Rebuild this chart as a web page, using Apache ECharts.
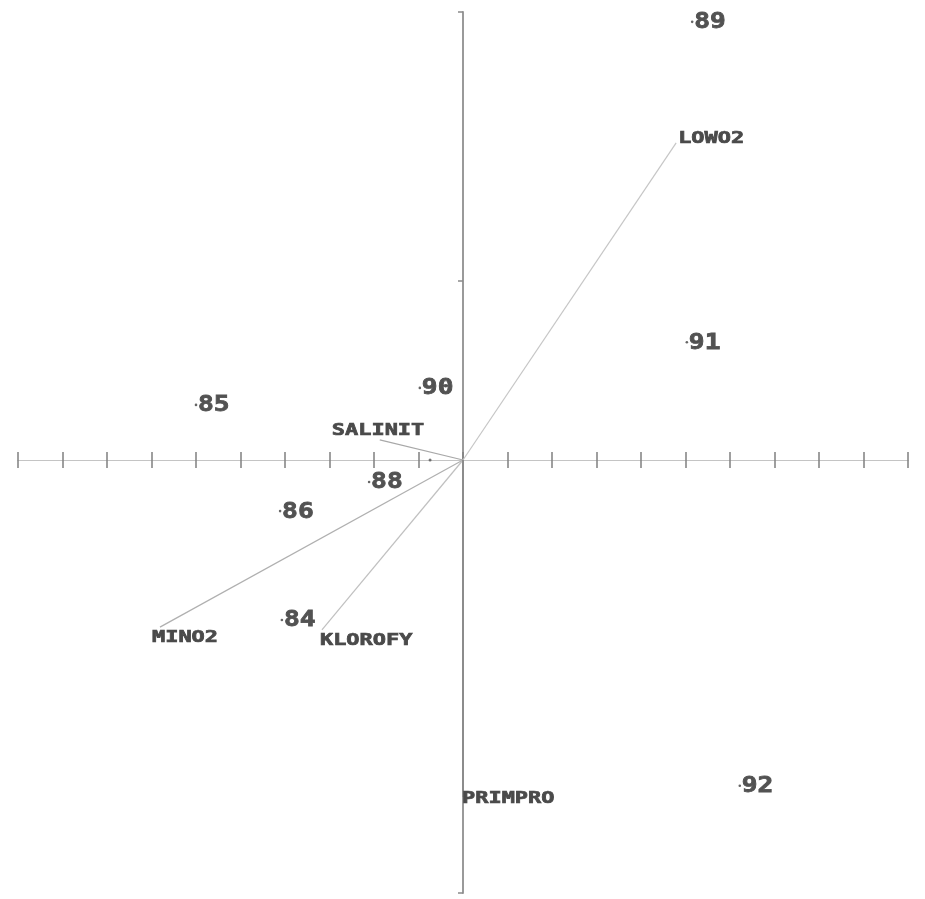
<!DOCTYPE html>
<html>
<head>
<meta charset="utf-8">
<script src="https://cdn.jsdelivr.net/npm/echarts@6/dist/echarts.min.js"></script>
<style>
  html, body { margin: 0; padding: 0; background: #fff; }
  #chart { width: 925px; height: 899px; }
</style>
</head>
<body>
<div id="chart"></div>
<script>
// Sites (sample scores) on the first two ordination axes
const siteNames = ['84', '85', '86', '88', '89', '90', '91', '92'];
const siteX = [-0.407, -0.600, -0.411, -0.211, 0.515, -0.097, 0.503, 0.622];
const siteY = [-0.357, 0.123, -0.114, -0.049, 0.978, 0.161, 0.263, -0.727];

// Environmental variables (biplot arrows)
const varNames = ['LOWO2', 'SALINIT', 'MINO2', 'KLOROFY', 'PRIMPRO'];
const varX = [0.479, -0.187, -0.681, -0.317, 0.0];
const varY = [0.708, 0.045, -0.373, -0.379, -0.752];

// Unlabelled point near the origin
const extraX = [-0.074];
const extraY = [0.0];

// Axis extents and tick values
const xMin = -1, xMax = 1, xStep = 0.1;
const yMin = -0.9665, yMax = 1.0;
const yTickValues = [1.0, 0.4, -0.9665];

// Label placement relative to arrow tips, in pixels
const varLabelOffset = {
  LOWO2: [2, -4], SALINIT: [-48, -9], MINO2: [-8, 11], KLOROFY: [-2, 11], PRIMPRO: [-1, 2]
};
const varLineColor = {
  LOWO2: '#c6c6c6', SALINIT: '#a8a8a8', MINO2: '#b0b0b0', KLOROFY: '#c0c0c0', PRIMPRO: '#8c8c8c'
};

const monoFont = '"DejaVu Sans Mono", "Liberation Mono", monospace';
const gridBox = { left: 18, right: 17, top: 12, bottom: 6, containLabel: false };

const chart = echarts.init(document.getElementById('chart'));

// The horizontal axis is drawn twice (two overlapping grids) so its ticks
// cross the line: one set points down, the other points up.
const makeX = (gridIndex, inside) => ({
  gridIndex: gridIndex,
  type: 'value', min: xMin, max: xMax, interval: xStep,
  axisLine: { show: true, onZero: true, lineStyle: { color: '#c4c4c4', width: 1 } },
  axisTick: { show: true, inside: inside, length: 8, lineStyle: { color: '#808080', width: 1.5 } },
  axisLabel: { show: false },
  splitLine: { show: false }
});

chart.setOption({
  animation: false,
  backgroundColor: '#ffffff',
  grid: [Object.assign({}, gridBox), Object.assign({}, gridBox)],
  xAxis: [makeX(0, false), makeX(1, true)],
  yAxis: [
    {
      gridIndex: 0,
      type: 'value', min: yMin, max: yMax,
      axisLine: { show: true, onZero: true, lineStyle: { color: '#9a9a9a', width: 2 } },
      axisTick: { show: true, length: 5, customValues: yTickValues, lineStyle: { color: '#8a8a8a', width: 1.5 } },
      axisLabel: { show: false },
      splitLine: { show: false }
    },
    {
      gridIndex: 1,
      type: 'value', min: yMin, max: yMax,
      axisLine: { show: false, onZero: true },
      axisTick: { show: false },
      axisLabel: { show: false },
      splitLine: { show: false }
    }
  ],
  series: [
    {
      // biplot arrows with their variable names
      type: 'custom',
      coordinateSystem: 'cartesian2d',
      xAxisIndex: 0, yAxisIndex: 0,
      data: varNames.map((n, i) => [varX[i], varY[i], n]),
      encode: { x: 0, y: 1 },
      renderItem: function (params, api) {
        const name = varNames[params.dataIndex];
        const o = api.coord([0, 0]);
        const p = api.coord([api.value(0), api.value(1)]);
        const off = varLabelOffset[name];
        const isPrim = name === 'PRIMPRO';
        return {
          type: 'group',
          children: [
            {
              type: 'line',
              shape: { x1: o[0], y1: o[1], x2: p[0], y2: p[1] },
              style: { stroke: varLineColor[name], lineWidth: isPrim ? 2 : 1.2 }
            },
            {
              type: 'text',
              x: p[0] + off[0], y: p[1] + off[1],
              scaleX: 1.33,
              style: {
                text: name, fill: '#4a4a4a', stroke: '#4a4a4a', lineWidth: 0.7,
                fontSize: 16.5, fontWeight: 'bold',
                fontFamily: monoFont, align: 'left', verticalAlign: 'middle'
              }
            }
          ]
        };
      }
    },
    {
      // site scores: small dot with the site number
      type: 'custom',
      coordinateSystem: 'cartesian2d',
      xAxisIndex: 0, yAxisIndex: 0,
      data: siteNames.map((n, i) => [siteX[i], siteY[i], n]),
      encode: { x: 0, y: 1 },
      renderItem: function (params, api) {
        const p = api.coord([api.value(0), api.value(1)]);
        return {
          type: 'group',
          children: [
            {
              type: 'circle',
              shape: { cx: p[0], cy: p[1], r: 1.3 },
              style: { fill: '#666' }
            },
            {
              type: 'text',
              x: p[0] + 2, y: p[1] + 1,
              scaleX: 1.25,
              style: {
                text: siteNames[params.dataIndex], fill: '#525252', stroke: '#525252', lineWidth: 0.8,
                fontSize: 21, fontWeight: 'bold',
                fontFamily: monoFont, align: 'left', verticalAlign: 'middle'
              }
            }
          ]
        };
      }
    },
    {
      type: 'scatter',
      xAxisIndex: 0, yAxisIndex: 0,
      symbol: 'circle',
      symbolSize: 3,
      itemStyle: { color: '#555' },
      data: extraX.map((x, i) => [x, extraY[i]])
    }
  ]
});
</script>
</body>
</html>
